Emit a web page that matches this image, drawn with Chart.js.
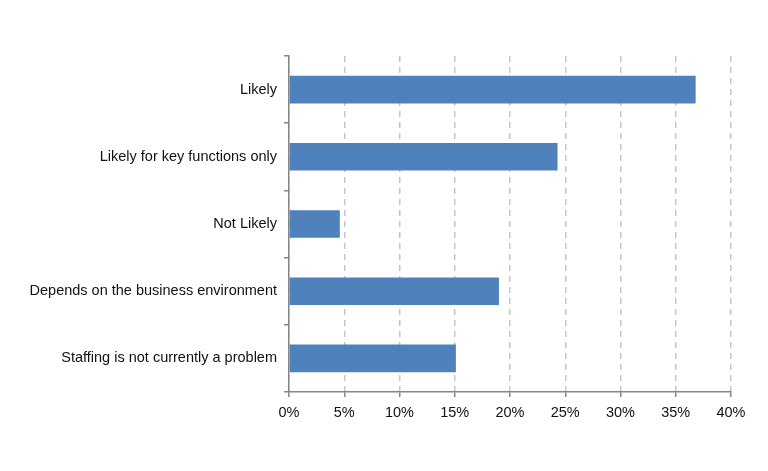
<!DOCTYPE html>
<html>
<head>
<meta charset="utf-8">
<script src="https://cdn.jsdelivr.net/npm/chart.js@4"></script>
<style>
  html, body { margin: 0; padding: 0; background: #fff; }
  #wrap { width: 768px; height: 471px; }
</style>
</head>
<body>
<div id="wrap"><canvas id="chart" width="768" height="471"></canvas></div>
<script>
// ─── DATA ─────────────────────────────────────────────────────────────────────
const CATEGORIES = [
  'Likely',
  'Likely for key functions only',
  'Not Likely',
  'Depends on the business environment',
  'Staffing is not currently a problem'
];
const SHARES = [36.8, 24.3, 4.6, 19.0, 15.1];   // percent of respondents
const X_TICKS = [0, 5, 10, 15, 20, 25, 30, 35, 40];

const BAR_COLOR = '#4f81bd';
const AXIS_COLOR = '#868686';
const GRID_COLOR = '#c6c6c6';
const FONT = { family: '"Liberation Sans", Arial, sans-serif', size: 14.5 };

new Chart(document.getElementById('chart'), {
  type: 'bar',
  data: {
    labels: CATEGORIES,
    datasets: [{
      data: SHARES,
      backgroundColor: BAR_COLOR,
      borderWidth: 0,
      categoryPercentage: 1,
      barPercentage: 0.41
    }]
  },
  options: {
    indexAxis: 'y',
    responsive: false,
    animation: false,
    layout: { padding: { top: 56, right: 37, bottom: 0, left: 0 } },
    plugins: { legend: { display: false }, tooltip: { enabled: false } },
    scales: {
      x: {
        min: 0,
        max: 40,
        afterBuildTicks: s => { s.ticks = X_TICKS.map(v => ({ value: v })); },
        afterFit: s => { s.height = 79; },
        // in v4, border.dash dashes the grid lines, the axis line stays solid
        border: { display: true, color: AXIS_COLOR, width: 1.5, dash: [6, 5] },
        grid: {
          color: GRID_COLOR,
          lineWidth: 1.5,
          tickLength: 5,
          tickColor: AXIS_COLOR,
          tickBorderDash: [],
          tickWidth: 1.5
        },
        ticks: { color: '#111', font: FONT, padding: 7, callback: v => v + '%' }
      },
      y: {
        afterFit: s => { s.width = 289; },
        border: { display: true, color: AXIS_COLOR, width: 1.5 },
        grid: {
          drawOnChartArea: false,
          offset: true,
          tickLength: 5,
          color: AXIS_COLOR,
          lineWidth: 1.5
        },
        ticks: { color: '#111', font: FONT, padding: 7 }
      }
    }
  }
});
</script>
</body>
</html>
